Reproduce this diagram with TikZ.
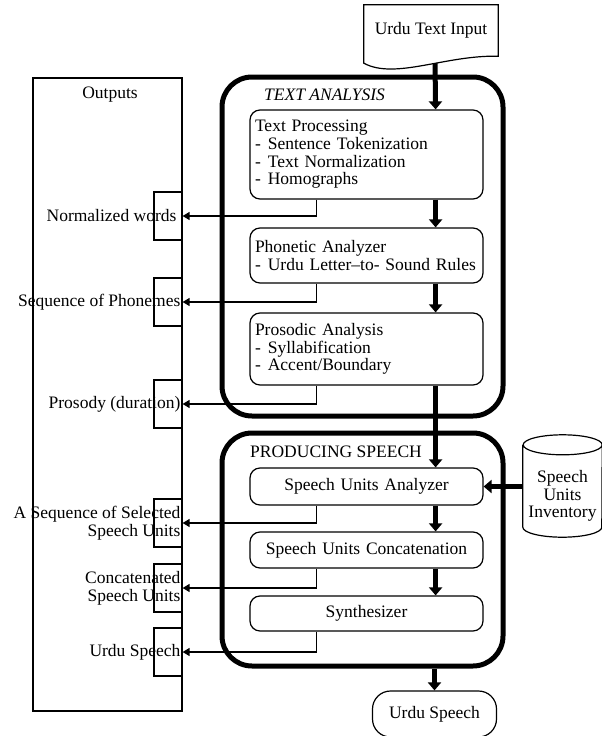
\documentclass[tikz,border=0pt]{standalone}
\usepackage{fontspec}
\setmainfont{Liberation Serif}
\usetikzlibrary{arrows.meta}

\begin{document}
\begin{tikzpicture}[x=1pt, y=-1pt,
    every node/.append style={font=\fontsize{17.5pt}{17.7pt}\selectfont, inner sep=0pt},
    outbox/.style={draw, line width=1.2pt, minimum width=149pt, minimum height=633pt},
    tabbox/.style={draw, line width=1.2pt, minimum width=28pt, minimum height=48pt},
    group/.style={draw, line width=5pt, rounded corners=30pt, minimum width=281pt},
    stage/.style={draw, line width=1.2pt, rounded corners=10pt, minimum width=233pt, inner xsep=5pt, text width=223pt},
    flow/.style={line width=5pt, -{Triangle[length=8pt, width=13pt]}},
    feed/.style={line width=1.4pt, -{Triangle[length=7pt, width=8pt]}},
    outlabel/.style={anchor=east, align=right},
    lid/.style={x radius=39.5pt, y radius=10pt}]
    \useasboundingbox (0,0) rectangle (602,736);

    \node[outbox] (out) at (107.5,394.5) {};
    \node (outtitle) at (110,95) {Outputs};

    \begin{scope}[every node/.append style={tabbox}]
        \node (tab1) at (168,216) {};
        \node (tab2) at (168,302) {};
        \node (tab3) at (168,404) {};
        \node (tab4) at (168,523) {};
        \node (tab5) at (168,588) {};
        \node (tab6) at (168,652) {};
    \end{scope}

    \node[group, minimum height=339pt] (ta) at (362.5,246.5) {};
    \node[group, minimum height=233pt] (ps) at (362.5,549.5) {};
    \node[anchor=west] (talabel) at (264,95) {\itshape TEXT ANALYSIS};
    \node[anchor=west] (pslabel) at (250,452) {PRODUCING SPEECH};

    \begin{scope}[every node/.append style={stage}]
        \node[minimum height=89pt, align=left] (tp) at (366.5,154.5) {Text Processing\\-\hspace{7pt}Sentence Tokenization\\-\hspace{7pt}Text Normalization\\-\hspace{7pt}Homographs};
        \node[minimum height=55pt, align=left] (pa) at (366.5,255.5) {Phonetic Analyzer\\\mbox{-\hspace{7pt}Urdu Letter--to- Sound Rules}};
        \node[minimum height=72pt, align=left] (pra) at (366.5,349) {Prosodic Analysis\\-\hspace{7pt}Syllabification\\-\hspace{7pt}Accent/Boundary};
        \node[minimum height=37pt, align=center] (sua) at (366.5,486.5) {Speech Units Analyzer};
        \node[minimum height=36pt, align=center] (suc) at (366.5,550) {Speech Units Concatenation};
        \node[minimum height=35pt, align=center] (syn) at (366.5,613.5) {Synthesizer};
    \end{scope}

    \node[minimum width=134pt, minimum height=51pt] (input) at (431,30.5) {};
    \node[draw, line width=1.2pt, rounded corners=18pt, minimum width=124pt, minimum height=46pt] (speech) at (434.5,714) {Urdu Speech};
    \node[minimum width=79pt, minimum height=102pt] (inv) at (562.5,486) {};
    \draw[line width=1.2pt] ([yshift=-10pt]inv.north west) -- ([yshift=10pt]inv.south west)
        arc[lid, start angle=180, end angle=360] -- ([yshift=-10pt]inv.north east)
        arc[lid, start angle=0, end angle=180] arc[lid, start angle=180, end angle=360];
    \node[align=center] (invtext) at (562.5,496) {Speech\\Units\\Inventory};

    \node[outlabel] (lab1) at ([xshift=-6pt]tab1.east) {Normalized words};
    \node[outlabel] (lab2) at ([xshift=-2pt]tab2.east) {Sequence of Phonemes};
    \node[outlabel] (lab3) at ([xshift=-2pt]tab3.east) {Prosody (duration)};
    \node[outlabel] (lab4) at ([xshift=-2pt]tab4.east) {A Sequence of Selected\\Speech Units};
    \node[outlabel] (lab5) at ([xshift=-2pt]tab5.east) {Concatenated\\Speech Units};
    \node[outlabel] (lab6) at ([xshift=-2pt]tab6.east) {Urdu Speech};

    \draw[flow] ([xshift=4pt, yshift=-6pt]input.south) -- ([xshift=-48pt]tp.north east);
    \draw[line width=1.2pt, fill=white] (input.north west) -- (input.north east) -- (input.south east)
        .. controls (445,55) and (395,80) .. ([yshift=-7pt]input.south west) -- cycle;
    \node (inputtext) at (input.center) {Urdu Text Input};

    \draw[flow] ([xshift=-48pt]tp.south east) -- ([xshift=-48pt]pa.north east);
    \draw[flow] ([xshift=-48pt]pa.south east) -- ([xshift=-48pt]pra.north east);
    \draw[flow] ([xshift=-48pt]pra.south east) -- ([xshift=-48pt]sua.north east);
    \draw[flow] ([xshift=-48pt]sua.south east) -- ([xshift=-48pt]suc.north east);
    \draw[flow] ([xshift=-48pt]suc.south east) -- ([xshift=-48pt]syn.north east);
    \draw[flow] (speech.north |- ps.south) -- (speech.north);
    \draw[flow] (inv.west |- sua.east) -- (sua.east);

    \draw[feed] ([xshift=67pt]tp.south west) |- (tab1.east);
    \draw[feed] ([xshift=67pt]pa.south west) |- (tab2.east);
    \draw[feed] ([xshift=67pt]pra.south west) |- (tab3.east);
    \draw[feed] ([xshift=67pt]sua.south west) |- (tab4.east);
    \draw[feed] ([xshift=67pt]suc.south west) |- (tab5.east);
    \draw[feed] ([xshift=67pt]syn.south west) |- (tab6.east);
\end{tikzpicture}
\end{document}
